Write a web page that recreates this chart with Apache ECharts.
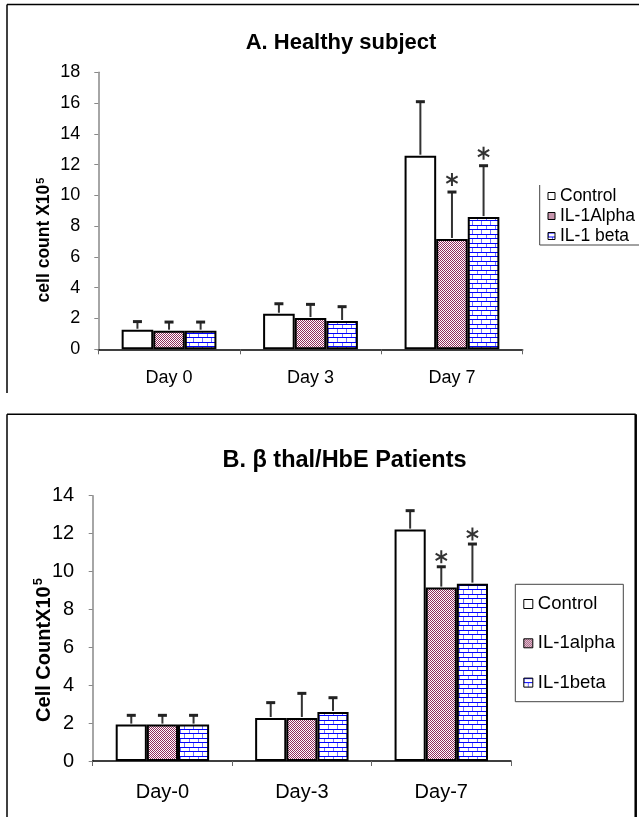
<!DOCTYPE html>
<html><head><meta charset="utf-8">
<script src="https://cdn.jsdelivr.net/npm/echarts@6/dist/echarts.min.js"></script>
<style>html,body{margin:0;padding:0;background:#fff}#c{width:639px;height:817px}</style>
</head><body><div id="c"></div>
<script>
// ---------- Panel A data ----------
const categoriesA = ['Day 0', 'Day 3', 'Day 7'];
const seriesNamesA = ['Control', 'IL-1Alpha', 'IL-1 beta'];
const controlA = [1.27, 2.31, 12.58];
const alphaA = [1.21, 2.03, 7.17];
const betaA = [1.21, 1.84, 8.59];
const controlErrA = [0.53, 0.65, 3.51];
const alphaErrA = [0.56, 0.89, 3.05];
const betaErrA = [0.56, 0.93, 3.34];
const controlSigA = [0, 0, 0];
const alphaSigA = [0, 0, 1];
const betaSigA = [0, 0, 1];
const yMinA = 0, yMaxA = 18, yStepA = 2;

// ---------- Panel B data ----------
const categoriesB = ['Day-0', 'Day-3', 'Day-7'];
const seriesNamesB = ['Control', 'IL-1alpha', 'IL-1beta'];
const controlB = [1.92, 2.27, 12.21];
const alphaB = [1.92, 2.27, 9.15];
const betaB = [1.92, 2.59, 9.36];
const controlErrB = [0.49, 0.81, 1.00];
const alphaErrB = [0.49, 1.30, 1.10];
const betaErrB = [0.49, 0.75, 2.09];
const controlSigB = [0, 0, 0];
const alphaSigB = [0, 0, 1];
const betaSigB = [0, 0, 1];
const yMinB = 0, yMaxB = 14, yStepB = 2;

const FONT = 'Arial, "Liberation Sans", sans-serif';

function checkerPattern() {
  const c = document.createElement('canvas'); c.width = 2; c.height = 2;
  const g = c.getContext('2d');
  g.fillStyle = '#ffffff'; g.fillRect(0, 0, 2, 2);
  g.fillStyle = '#8f2d5c'; g.fillRect(0, 0, 1, 1); g.fillRect(1, 1, 1, 1);
  return { image: c, repeat: 'repeat' };
}
function brickPattern() {
  const c = document.createElement('canvas'); c.width = 9; c.height = 9;
  const g = c.getContext('2d');
  g.fillStyle = '#ffffff'; g.fillRect(0, 0, 9, 9);
  g.fillStyle = '#0000ff'; g.fillRect(0, 0, 9, 1); g.fillRect(0, 4, 9, 1);
  g.fillStyle = '#7070ff'; g.fillRect(0, 1, 1, 3); g.fillRect(4, 5, 1, 4);
  return { image: c, repeat: 'repeat' };
}
const fills = ['#ffffff', checkerPattern(), brickPattern()];

const CAT_GAP = 0.33;

function barSeries(name, data, idx, gi) {
  return {
    type: 'bar', name: name, data: data, xAxisIndex: gi, yAxisIndex: gi,
    barGap: '0%', barCategoryGap: (CAT_GAP * 100) + '%',
    itemStyle: { color: fills[idx], borderColor: '#000', borderWidth: 2 },
    emphasis: { disabled: true }, z: 2
  };
}

function errSeries(gi, vals, errs, sigs, starOff) {
  const items = [];
  vals.forEach((arr, s) => arr.forEach((v, c) => items.push([c, s, v, errs[s][c], sigs[s][c]])));
  return {
    type: 'custom', xAxisIndex: gi, yAxisIndex: gi, z: 5, silent: true,
    encode: { x: 0, y: 2 },
    data: items,
    renderItem: function (params, api) {
      const c = api.value(0), s = api.value(1), v = api.value(2), e = api.value(3), sig = api.value(4);
      const base = api.coord([c, v]);
      const top = api.coord([c, v + e]);
      const band = api.size([1, 0])[0];
      const bw = band * (1 - CAT_GAP) / 3;
      const x = base[0] + (s - 1) * bw;
      const ch = [
        { type: 'line', shape: { x1: x, y1: base[1] - 1, x2: x, y2: top[1] }, style: { stroke: '#333', lineWidth: 2 } },
        { type: 'line', shape: { x1: x - 4.5, y1: top[1], x2: x + 4.5, y2: top[1] }, style: { stroke: '#222', lineWidth: 3 } }
      ];
      if (sig) {
        const cy = top[1] - starOff, r = 6.5;
        const dx = r * Math.cos(Math.PI / 6), dy = r * Math.sin(Math.PI / 6);
        const st = { stroke: '#333', lineWidth: 2 };
        ch.push({ type: 'line', shape: { x1: x, y1: cy - r, x2: x, y2: cy + r }, style: st });
        ch.push({ type: 'line', shape: { x1: x - dx, y1: cy - dy, x2: x + dx, y2: cy + dy }, style: st });
        ch.push({ type: 'line', shape: { x1: x - dx, y1: cy + dy, x2: x + dx, y2: cy - dy }, style: st });
      }
      return { type: 'group', children: ch };
    }
  };
}

function xAxis(gi, cats, fs, margin) {
  return {
    type: 'category', gridIndex: gi, data: cats,
    axisLine: { show: true, lineStyle: { color: '#000', width: 1.5 } },
    axisTick: { show: true, length: 5, alignWithLabel: false, interval: 0, lineStyle: { color: '#666', width: 1 } },
    axisLabel: { color: '#000', fontSize: fs, margin: margin, fontFamily: FONT, interval: 0 },
    splitLine: { show: false }
  };
}
function yAxis(gi, min, max, step, fs, margin) {
  return {
    type: 'value', gridIndex: gi, min: min, max: max, interval: step,
    axisLine: { show: true, lineStyle: { color: '#888', width: 1.5 } },
    axisTick: { show: true, length: 4, inside: false, lineStyle: { color: '#888', width: 1 } },
    axisLabel: { color: '#000', fontSize: fs, margin: margin, fontFamily: FONT },
    splitLine: { show: false }
  };
}

const line = (x1, y1, x2, y2, w, col) => ({ type: 'line', silent: true, shape: { x1, y1, x2, y2 }, style: { stroke: col || '#000', lineWidth: w || 1.5 } });

const option = {
  animation: false,
  backgroundColor: '#ffffff',
  textStyle: { fontFamily: FONT },
  grid: [
    { left: 98.3, top: 72.3, width: 424.4, height: 277, containLabel: false },
    { left: 92.7, top: 495.7, width: 418.3, height: 265.3, containLabel: false }
  ],
  xAxis: [xAxis(0, categoriesA, 18, 19.5), xAxis(1, categoriesB, 20, 21.5)],
  yAxis: [yAxis(0, yMinA, yMaxA, yStepA, 18, 18), yAxis(1, yMinB, yMaxB, yStepB, 20, 18.5)],
  legend: [
    {
      data: seriesNamesA, orient: 'vertical', left: 547.5, top: 186, padding: 0,
      itemWidth: 7, itemHeight: 7, itemGap: 0, icon: 'rect', selectedMode: false,
      itemStyle: { borderColor: '#000', borderWidth: 1 },
      textStyle: { fontSize: 17.5, lineHeight: 20, color: '#000', fontFamily: FONT }
    },
    {
      data: seriesNamesB, orient: 'vertical', left: 523.3, top: 594, padding: 0,
      itemWidth: 9, itemHeight: 9, itemGap: 19.3, icon: 'rect', selectedMode: false,
      itemStyle: { borderColor: '#000', borderWidth: 1 },
      textStyle: { fontSize: 18.5, lineHeight: 20, color: '#000', fontFamily: FONT }
    }
  ],
  series: [
    barSeries(seriesNamesA[0], controlA, 0, 0),
    barSeries(seriesNamesA[1], alphaA, 1, 0),
    barSeries(seriesNamesA[2], betaA, 2, 0),
    errSeries(0, [controlA, alphaA, betaA], [controlErrA, alphaErrA, betaErrA], [controlSigA, alphaSigA, betaSigA], 12.5),
    barSeries(seriesNamesB[0], controlB, 0, 1),
    barSeries(seriesNamesB[1], alphaB, 1, 1),
    barSeries(seriesNamesB[2], betaB, 2, 1),
    errSeries(1, [controlB, alphaB, betaB], [controlErrB, alphaErrB, betaErrB], [controlSigB, alphaSigB, betaSigB], 10)
  ],
  graphic: [
    // panel A frame
    line(7, 4.5, 639, 4.5, 1.5), line(7, 4.5, 7, 393, 1.5),
    // panel B frame
    line(7, 414.3, 635.7, 414.3, 1.5), line(7, 414.3, 7, 817, 1.5), line(635.7, 414.3, 635.7, 817, 2.5),
    // legend A frame (partial)
    line(539.7, 185, 539.7, 245, 1, '#444'), line(539.7, 245, 639, 245, 1, '#444'),
    // legend B frame
    { type: 'rect', silent: true, shape: { x: 515.3, y: 584.3, width: 108, height: 117.4 }, style: { fill: 'none', stroke: '#444', lineWidth: 1 } },
    // titles
    { type: 'text', silent: true, x: 341, y: 43, style: { text: 'A. Healthy subject', font: 'bold 22px ' + FONT, fill: '#000', align: 'center', verticalAlign: 'middle' } },
    { type: 'text', silent: true, x: 344.5, y: 461, style: { text: 'B. \u03b2 thal/HbE Patients', font: 'bold 23.5px ' + FONT, fill: '#000', align: 'center', verticalAlign: 'middle' } },
    // y axis names
    { type: 'text', silent: true, x: 43.5, y: 240, rotation: Math.PI / 2,
      style: { text: '{a|cell count X10}{s|5}', align: 'center', verticalAlign: 'middle', fill: '#000',
        rich: { a: { font: 'bold 17.5px ' + FONT, fill: '#000', lineHeight: 20, verticalAlign: 'bottom' }, s: { font: 'bold 11px ' + FONT, fill: '#000', lineHeight: 20, verticalAlign: 'top', padding: [2, 0, 0, 1] } } } },
    { type: 'text', silent: true, x: 42, y: 650, rotation: Math.PI / 2,
      style: { text: '{a|Cell CountX10}{s|5}', align: 'center', verticalAlign: 'middle', fill: '#000',
        rich: { a: { font: 'bold 20px ' + FONT, fill: '#000', lineHeight: 24, verticalAlign: 'bottom' }, s: { font: 'bold 13px ' + FONT, fill: '#000', lineHeight: 24, verticalAlign: 'top', padding: [2, 0, 0, 1] } } } }
  ]
};

const chart = echarts.init(document.getElementById('c'), null, { renderer: 'canvas', width: 639, height: 817 });
chart.setOption(option);
</script>
</body></html>
